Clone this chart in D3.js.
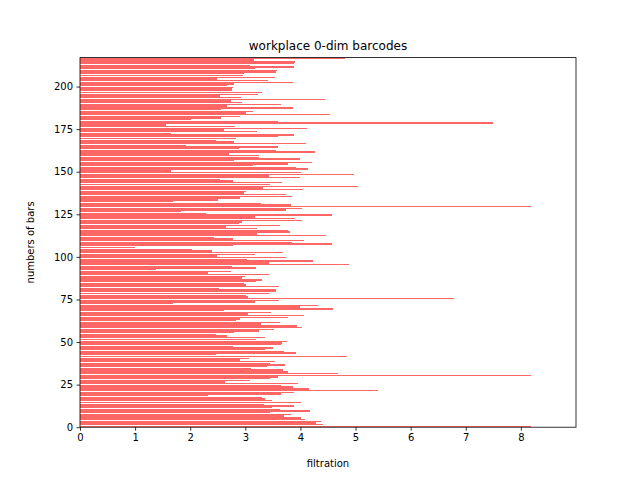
<!DOCTYPE html>
<html><head><meta charset="utf-8">
<script src="https://cdn.jsdelivr.net/npm/d3@7"></script>
<style>body{margin:0;background:#fff}svg{display:block}</style>
</head><body>
<script>
// bar death values listed from top of chart to bottom
const barsTopDown = [
 4.80,3.15,3.90,3.88,3.08,3.88,3.18,3.57,3.55,2.98,2.95,3.53,2.48,3.41,3.86,2.79,2.67,2.77,2.76,
 2.76,3.30,3.23,2.54,2.92,4.44,2.74,2.94,3.64,2.66,3.86,2.56,3.14,3.01,4.53,2.90,2.56,2.01,
 3.59,7.49,1.56,2.81,4.11,2.61,3.21,1.65,3.88,3.59,2.83,2.47,2.79,4.10,1.92,3.59,2.88,3.55,
 4.26,2.70,3.24,3.24,3.99,2.79,4.21,3.77,3.14,3.92,4.13,1.65,4.01,4.98,3.43,3.99,2.54,2.77,3.66,3.44,5.04,
 3.32,4.04,3.01,2.97,3.73,3.84,2.90,2.50,1.69,3.28,3.82,8.18,4.03,3.73,1.83,2.28,4.57,3.17,3.90,4.03,2.94,
 2.88,3.63,2.65,3.21,3.77,3.81,3.21,4.46,2.43,2.77,4.06,3.84,4.57,2.77,1.00,2.03,2.39,3.68,3.17,2.48,
 3.73,3.03,4.22,3.43,4.88,2.76,3.19,1.38,2.74,2.32,3.43,2.99,2.94,3.30,3.19,2.97,3.01,3.61,2.52,3.55,
 3.55,3.43,3.01,3.05,6.78,3.61,3.17,1.69,4.31,3.99,4.59,2.61,3.46,3.05,4.06,3.77,2.90,2.83,3.63,3.28,3.93,
 4.02,3.52,3.24,2.79,2.47,2.66,3.35,3.19,3.75,3.66,3.64,2.77,3.50,3.35,3.70,3.92,2.47,4.84,3.06,2.90,3.53,
 3.44,3.72,3.39,3.10,3.68,3.77,4.68,8.18,3.59,3.44,3.08,2.63,3.95,3.64,3.86,4.15,5.40,3.88,3.64,2.32,
 3.30,3.35,3.48,4.01,3.34,3.88,3.48,3.63,4.17,3.44,3.82,3.70,4.01,4.08,4.37,4.28,4.41,8.18
];
const barValues = barsTopDown.slice().reverse(); // index 0 = bottom bar
const xTicks = [0,1,2,3,4,5,6,7,8];
const yTicks = [0,25,50,75,100,125,150,175,200];
const titleText = "workplace 0-dim barcodes";
const xLabel = "filtration";
const yLabel = "numbers of bars";

const W = 640, H = 480;
const m = {left:80, right:64, top:57.6, bottom:52.8};
const svg = d3.select("body").append("svg").attr("width",W).attr("height",H)
  .style("font-family","'DejaVu Sans', sans-serif");

const x = d3.scaleLinear().domain([0, 9.0]).range([m.left, W-m.right]);
const y = d3.scaleLinear().domain([0, barValues.length]).range([H-m.bottom, m.top]);

svg.append("defs").append("clipPath").attr("id","clip").append("rect")
  .attr("x",m.left).attr("y",m.top).attr("width",W-m.left-m.right).attr("height",H-m.top-m.bottom);

svg.append("g").attr("clip-path","url(#clip)")
  .selectAll("rect").data(barValues).join("rect")
  .attr("x", x(0))
  .attr("y", (d,i) => y(i + 0.9))
  .attr("width", d => x(d) - x(0))
  .attr("height", (d,i) => y(i + 0.1) - y(i + 0.9))
  .attr("fill", "#ff6666")
  .attr("shape-rendering","crispEdges");

const xAxis = d3.axisBottom(x).tickValues(xTicks).tickFormat(d3.format("d")).tickSizeOuter(0).tickSize(3.5).tickPadding(3.5);
const gx = svg.append("g").attr("transform",`translate(0,${H-m.bottom})`).call(xAxis);
const yAxis = d3.axisLeft(y).tickValues(yTicks).tickFormat(d3.format("d")).tickSizeOuter(0).tickSize(3.5).tickPadding(3.5);
const gy = svg.append("g").attr("transform",`translate(${m.left},0)`).call(yAxis);
[gx,gy].forEach(g=>{
  g.select(".domain").remove();
  g.selectAll("text").attr("font-size",10).attr("fill","#000").style("font-family","'DejaVu Sans', sans-serif");
  g.selectAll("line").attr("stroke","#000").attr("stroke-width",0.8);
});

svg.append("rect").attr("x",m.left).attr("y",m.top)
  .attr("width",W-m.left-m.right).attr("height",H-m.top-m.bottom)
  .attr("fill","none").attr("stroke","#000").attr("stroke-width",0.8);

svg.append("text").attr("x",(m.left+W-m.right)/2).attr("y",m.top-8)
  .attr("text-anchor","middle").attr("font-size",12).text(titleText);
svg.append("text").attr("x",(m.left+W-m.right)/2).attr("y",H-13)
  .attr("text-anchor","middle").attr("font-size",10).text(xLabel);
svg.append("text").attr("transform",`translate(34,${(m.top+H-m.bottom)/2}) rotate(-90)`)
  .attr("text-anchor","middle").attr("font-size",10).text(yLabel);
</script>
</body></html>
